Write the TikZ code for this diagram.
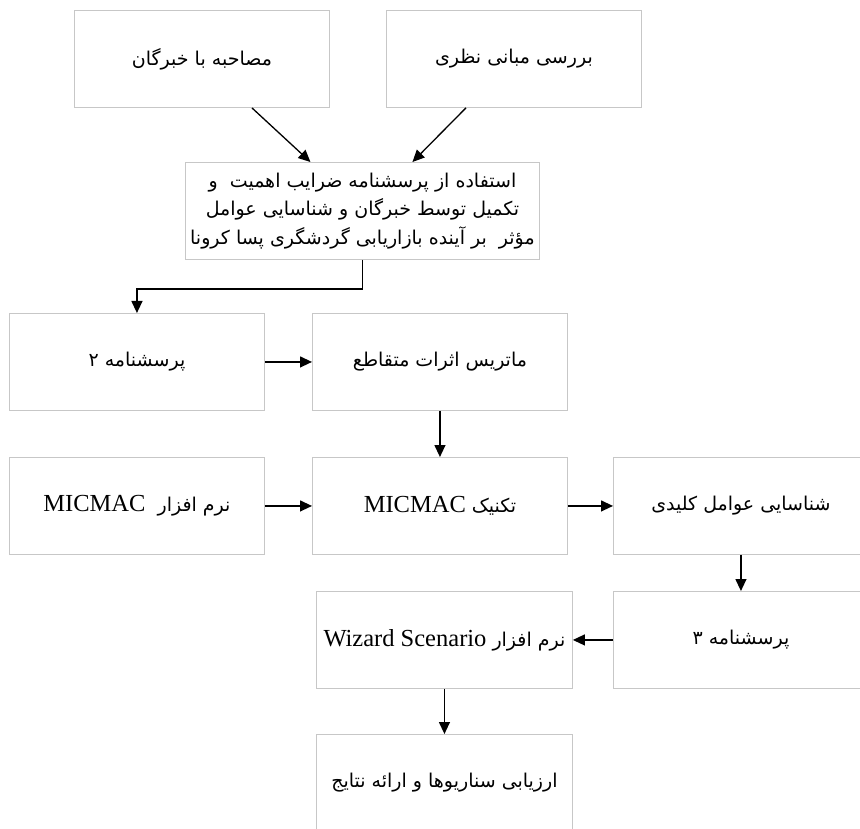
\documentclass[tikz,border=0pt]{standalone}
\usepackage{fontspec}
\setmainfont{Liberation Serif}
\newfontfamily\fa[Script=Arabic]{DejaVu Sans}
\TeXXeTstate=1
\usetikzlibrary{arrows.meta}
\tikzset{
  box/.style={draw=black!22, line width=0.9pt, minimum width=255pt, minimum height=97pt,
    inner sep=0pt, anchor=north west, align=center,
    font=\fontsize{19pt}{28.5pt}\selectfont},
  arr/.style={-{Triangle[length=12pt,width=11pt]}, line width=1.3pt},
}
\newcommand{\R}[1]{\beginR #1\endR}
\newcommand{\Lt}[1]{\beginL{\rmfamily\fontsize{24.5pt}{25pt}\selectfont #1}\endL}
\begin{document}
\begin{tikzpicture}[x=1pt,y=-1pt]
\clip (0,0) rectangle (860,829);
\fill[white] (0,0) rectangle (860,829);
\node[box] (A) at (74,10) {\fa\R{مصاحبه با خبرگان}};
\node[box] (B) at (386,10) {\fa\R{بررسی مبانی نظری}};
\node[box, minimum width=354pt] (C) at (185,162) {\fa\R{استفاده از پرسشنامه ضرایب اهمیت \ و}\\\fa\R{تکمیل توسط خبرگان و شناسایی عوامل}\\\fa\R{مؤثر \ بر آینده بازاریابی گردشگری پسا کرونا}};
\node[box] (D) at (9,313) {\fa\R{پرسشنامه ۲}};
\node[box] (E) at (312,313) {\fa\R{ماتریس اثرات متقاطع}};
\node[box] (G) at (9,457) {\fa\R{نرم افزار \ \Lt{MICMAC}}};
\node[box] (F) at (312,457) {\fa\R{تکنیک \Lt{MICMAC}}};
\node[box] (H) at (613,457) {\fa\R{شناسایی عوامل کلیدی}};
\node[box] (I) at (613,591) {\fa\R{پرسشنامه ۳}};
\node[box, minimum width=256pt] (J) at (316,591) {\fa\R{نرم افزار \Lt{Wizard Scenario}}};
\node[box, minimum width=256pt] (K) at (316,734) {\fa\R{ارزیابی سناریوها و ارائه نتایج}};
\draw[arr] ([xshift=50pt]A.south) -- ([xshift=-52pt]C.north);
\draw[arr] ([xshift=-48pt]B.south) -- ([xshift=50pt]C.north);
\draw[arr] (C.south) -- ++(0,29) -| (D.north);
\draw[arr] (D.east) -- (E.west);
\draw[arr] (E.south) -- (F.north);
\draw[arr] (G.east) -- (F.west);
\draw[arr] (F.east) -- (H.west);
\draw[arr] (H.south) -- (I.north);
\draw[arr] (I.west) -- (J.east);
\draw[arr] (J.south) -- (K.north);
\end{tikzpicture}
\end{document}
